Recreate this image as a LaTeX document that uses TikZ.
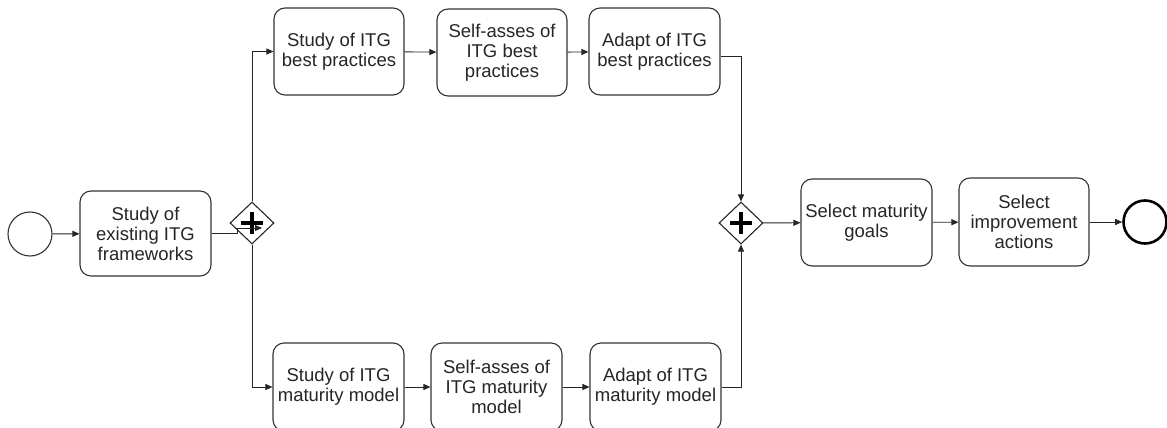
\documentclass[tikz,border=0pt]{standalone}
\usepackage{fontspec}
\setmainfont{Liberation Sans}
\usetikzlibrary{shapes.geometric,arrows.meta,calc}
\begin{document}
\begin{tikzpicture}[x=1pt,y=-1pt,
 task/.style={draw=black!80, line width=1.1pt, rounded corners=11pt, minimum width=130pt, minimum height=87pt, align=center, font=\fontsize{18.5}{20}\selectfont, text=black!85, inner sep=0pt},
 gate/.style={draw=black!85, line width=1.1pt, diamond, aspect=1, minimum width=44pt, minimum height=42pt, inner sep=0pt},
 event/.style={draw=black!80, line width=1.1pt, circle, minimum size=44pt, inner sep=0pt},
 endevent/.style={draw=black, line width=2.6pt, circle, minimum size=43pt, inner sep=0pt},
 flow/.style={draw=black!85, line width=0.9pt, -{Triangle[length=7pt,width=6pt]}},
 plusbar/.style={line width=4.5pt, black}
]
\clip (0,0) rectangle (1167,428);
\fill[white] (0,0) rectangle (1167,428);

\node[event] (start) at (30,234) {};
\node[task, minimum width=131pt, minimum height=85pt] (b1) at (145.5,233.5) {Study of\\existing ITG\\frameworks};
\node[gate] (gw1) at (252,223) {};
\node[task] (A) at (339,51.5) {Study of ITG\\best practices};
\node[task] (B) at (502,52.5) {Self-asses of\\ITG best\\practices};
\node[task, minimum width=131pt] (C) at (654.5,51.5) {Adapt of ITG\\best practices};
\node[task, minimum width=131pt, minimum height=88pt] (D) at (338.5,387) {Study of ITG\\maturity model};
\node[task, minimum width=131pt, minimum height=88pt] (E) at (496.5,387) {Self-asses of\\ITG maturity\\model};
\node[task, minimum width=131pt, minimum height=88pt] (F) at (655.5,387) {Adapt of ITG\\maturity model};
\node[gate] (gw2) at (741,223) {};
\node[task, minimum width=131pt] (G) at (866.5,222.5) {Select maturity\\goals};
\node[task, minimum height=88pt] (H) at (1024,222) {Select\\improvement\\actions};
\node[endevent] (end) at (1145,222) {};

\foreach \g in {gw1,gw2}{
  \draw[plusbar] ($(\g.center)+(-11,0)$) -- ($(\g.center)+(11,0)$);
  \draw[plusbar] ($(\g.center)+(0,-11)$) -- ($(\g.center)+(0,11)$);
}

\coordinate (j1) at (237,228);
\coordinate (j2) at (262,228);

\draw[flow] (start) -- (b1);
\draw[flow] (b1.east) -| (j1) -- (j2);
\draw[flow] (gw1.north) |- (A.west);
\draw[flow] (gw1.south) |- (D.west);
\draw[flow] (A) -- (B);
\draw[flow] (B) -- (C);
\draw[flow] (D) -- (E);
\draw[flow] (E) -- (F);
\draw[flow] ($(C.east)+(0,5)$) -| (gw2.north);
\draw[flow] (F.east) -| (gw2.south);
\draw[flow] (gw2) -- (G);
\draw[flow] (G) -- (H);
\draw[flow] (H) -- (end);
\end{tikzpicture}
\end{document}
